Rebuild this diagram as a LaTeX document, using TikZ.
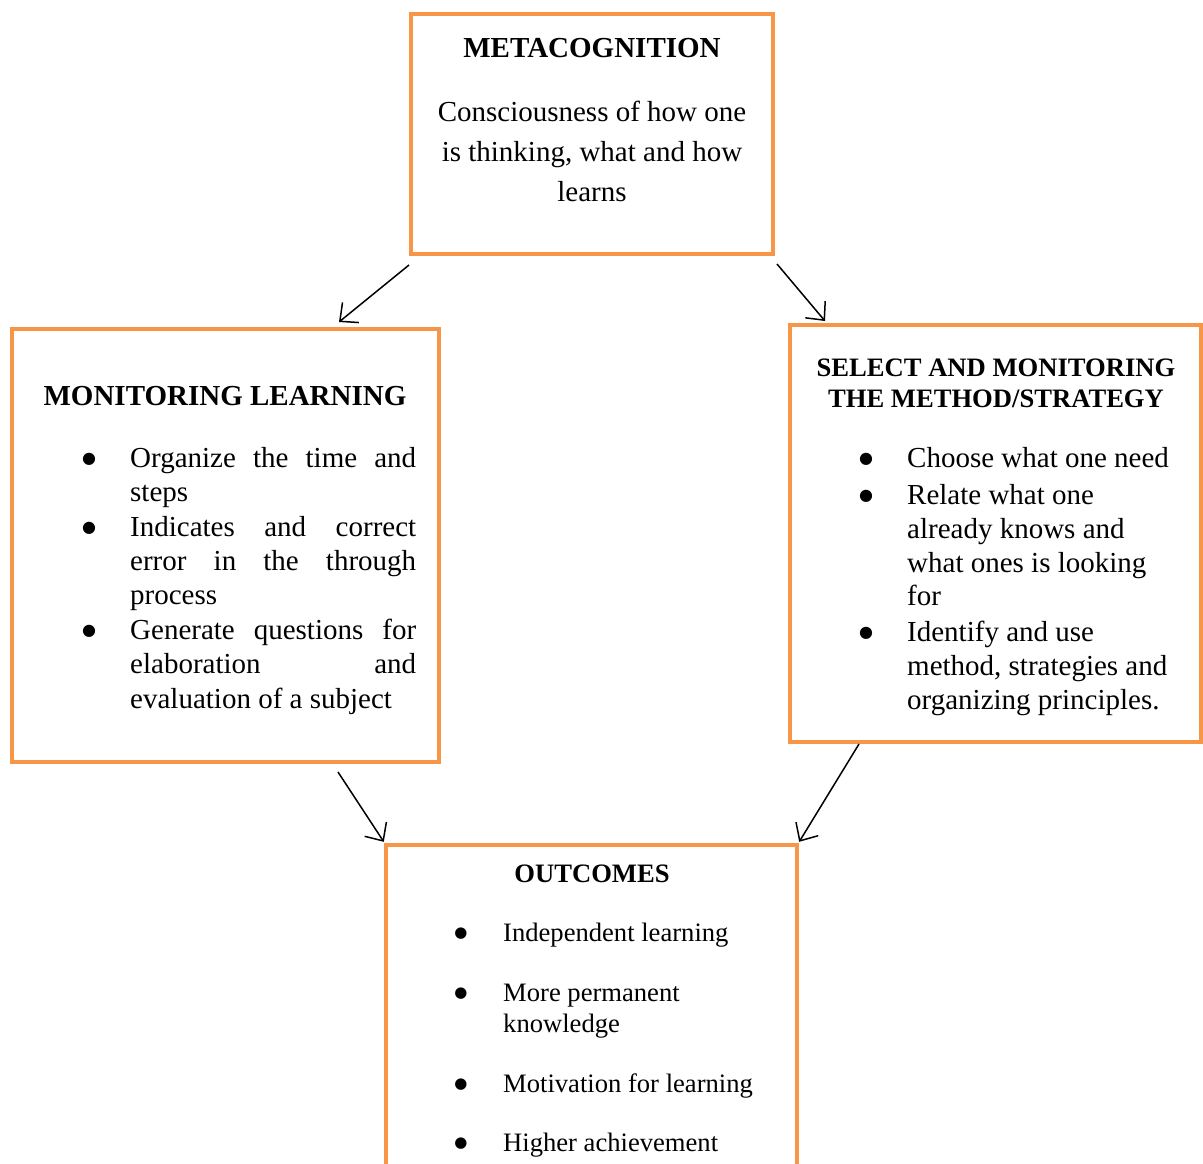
\documentclass[tikz,border=0pt]{standalone}
\usepackage{fontspec}
\setmainfont{Liberation Serif}
\newfontfamily\dotfont{DejaVu Sans}
\usetikzlibrary{arrows.meta,calc}
\definecolor{boxorange}{HTML}{F79646}
\tikzset{
  box/.style={rectangle, draw=boxorange, line width=4pt, inner sep=0pt},
  arr/.style={-{Straight Barb[length=14pt,width=26pt]}, line width=1.5pt, black},
  bigtitle/.style={font=\fontsize{29}{34}\selectfont\bfseries, inner sep=0pt, anchor=base},
  smalltitle/.style={font=\fontsize{26.6}{31}\selectfont\bfseries, inner sep=0pt, anchor=base},
  bigtext/.style={font=\fontsize{29}{34}\selectfont, inner sep=0pt, anchor=base west},
  bigtextc/.style={font=\fontsize{29}{34}\selectfont, inner sep=0pt, anchor=base},
  smalltext/.style={font=\fontsize{26.6}{31}\selectfont, inner sep=0pt, anchor=base west},
  bigbullet/.style={font=\dotfont\fontsize{16}{16}\selectfont, inner sep=0pt, anchor=base},
  smallbullet/.style={font=\dotfont\fontsize{15}{15}\selectfont, inner sep=0pt, anchor=base},
}
\newcommand{\jline}[1]{\makebox[286pt][s]{#1}}
\begin{document}
\begin{tikzpicture}[x=1pt,y=-1pt]
\useasboundingbox (0,0) rectangle (1203,1163);
% boxes
\node[box, minimum width=362pt, minimum height=240pt] (meta) at (592,134) {};
\node[box, minimum width=427pt, minimum height=433pt] (mon) at (225.5,545.5) {};
\node[box, minimum width=411pt, minimum height=417pt] (sel) at (995.5,533.5) {};
\node[rectangle, inner sep=0pt, minimum width=411pt, minimum height=330pt] (out) at (591.5,1010) {};
\draw[draw=boxorange, line width=4pt] (out.south west) -- (out.north west) -- (out.north east) -- (out.south east);

% metacognition
\node[bigtitle] (metat) at (592,57) {METACOGNITION};
\node[bigtextc] (metal1) at (592,121) {Consciousness of how one};
\node[bigtextc] (metal2) at (592,161) {is thinking, what and how};
\node[bigtextc] (metal3) at (592,201) {learns};

% monitoring learning
\node[bigtitle] (mont) at (225,405) {MONITORING LEARNING};
\node[bigbullet] (monb1) at (89,463) {●};
\node[bigtext] (monl1) at (130,467) {\jline{Organize the time and}};
\node[bigtext] (monl2) at (130,501) {steps};
\node[bigbullet] (monb2) at (89,532) {●};
\node[bigtext] (monl3) at (130,536) {\jline{Indicates and correct}};
\node[bigtext] (monl4) at (130,570) {\jline{error in the through}};
\node[bigtext] (monl5) at (130,604) {process};
\node[bigbullet] (monb3) at (89,635) {●};
\node[bigtext] (monl6) at (130,639) {\jline{Generate questions for}};
\node[bigtext] (monl7) at (130,673) {\jline{elaboration and}};
\node[bigtext] (monl8) at (130,708) {evaluation of a subject};

% select and monitoring
\node[smalltitle] (selt1) at (996,376) {SELECT AND MONITORING};
\node[smalltitle] (selt2) at (996,407) {THE METHOD/STRATEGY};
\node[bigbullet] (selb1) at (866,463) {●};
\node[bigtext] (sell1) at (907,467) {Choose what one need};
\node[bigbullet] (selb2) at (866,500) {●};
\node[bigtext] (sell2) at (907,504) {Relate what one};
\node[bigtext] (sell3) at (907,538) {already knows and};
\node[bigtext] (sell4) at (907,572) {what ones is looking};
\node[bigtext] (sell5) at (907,605) {for};
\node[bigbullet] (selb3) at (866,637) {●};
\node[bigtext] (sell6) at (907,641) {Identify and use};
\node[bigtext] (sell7) at (907,675) {method, strategies and};
\node[bigtext] (sell8) at (907,709) {organizing principles.};

% outcomes
\node[smalltitle] (outt) at (592,882) {OUTCOMES};
\node[smallbullet] (outb1) at (461,937) {●};
\node[smalltext] (outl1) at (503,941) {Independent learning};
\node[smallbullet] (outb2) at (461,997) {●};
\node[smalltext] (outl2) at (503,1001) {More permanent};
\node[smalltext] (outl3) at (503,1032) {knowledge};
\node[smallbullet] (outb3) at (461,1088) {●};
\node[smalltext] (outl4) at (503,1092) {Motivation for learning};
\node[smallbullet] (outb4) at (461,1147) {●};
\node[smalltext] (outl5) at (503,1151) {Higher achievement};

% arrows
\draw[arr] ($(meta.south west)+(0,9)$) -- ($(mon.north west)+(329,-5)$);
\draw[arr] ($(meta.south east)+(2,8)$) -- ($(sel.north west)+(37,-2)$);
\draw[arr] ($(mon.south west)+(328,8)$) -- ($(out.north west)+(-2,-3)$);
\draw[arr] ($(sel.south west)+(71,0)$) -- ($(out.north east)+(2,-3)$);
\end{tikzpicture}
\end{document}
